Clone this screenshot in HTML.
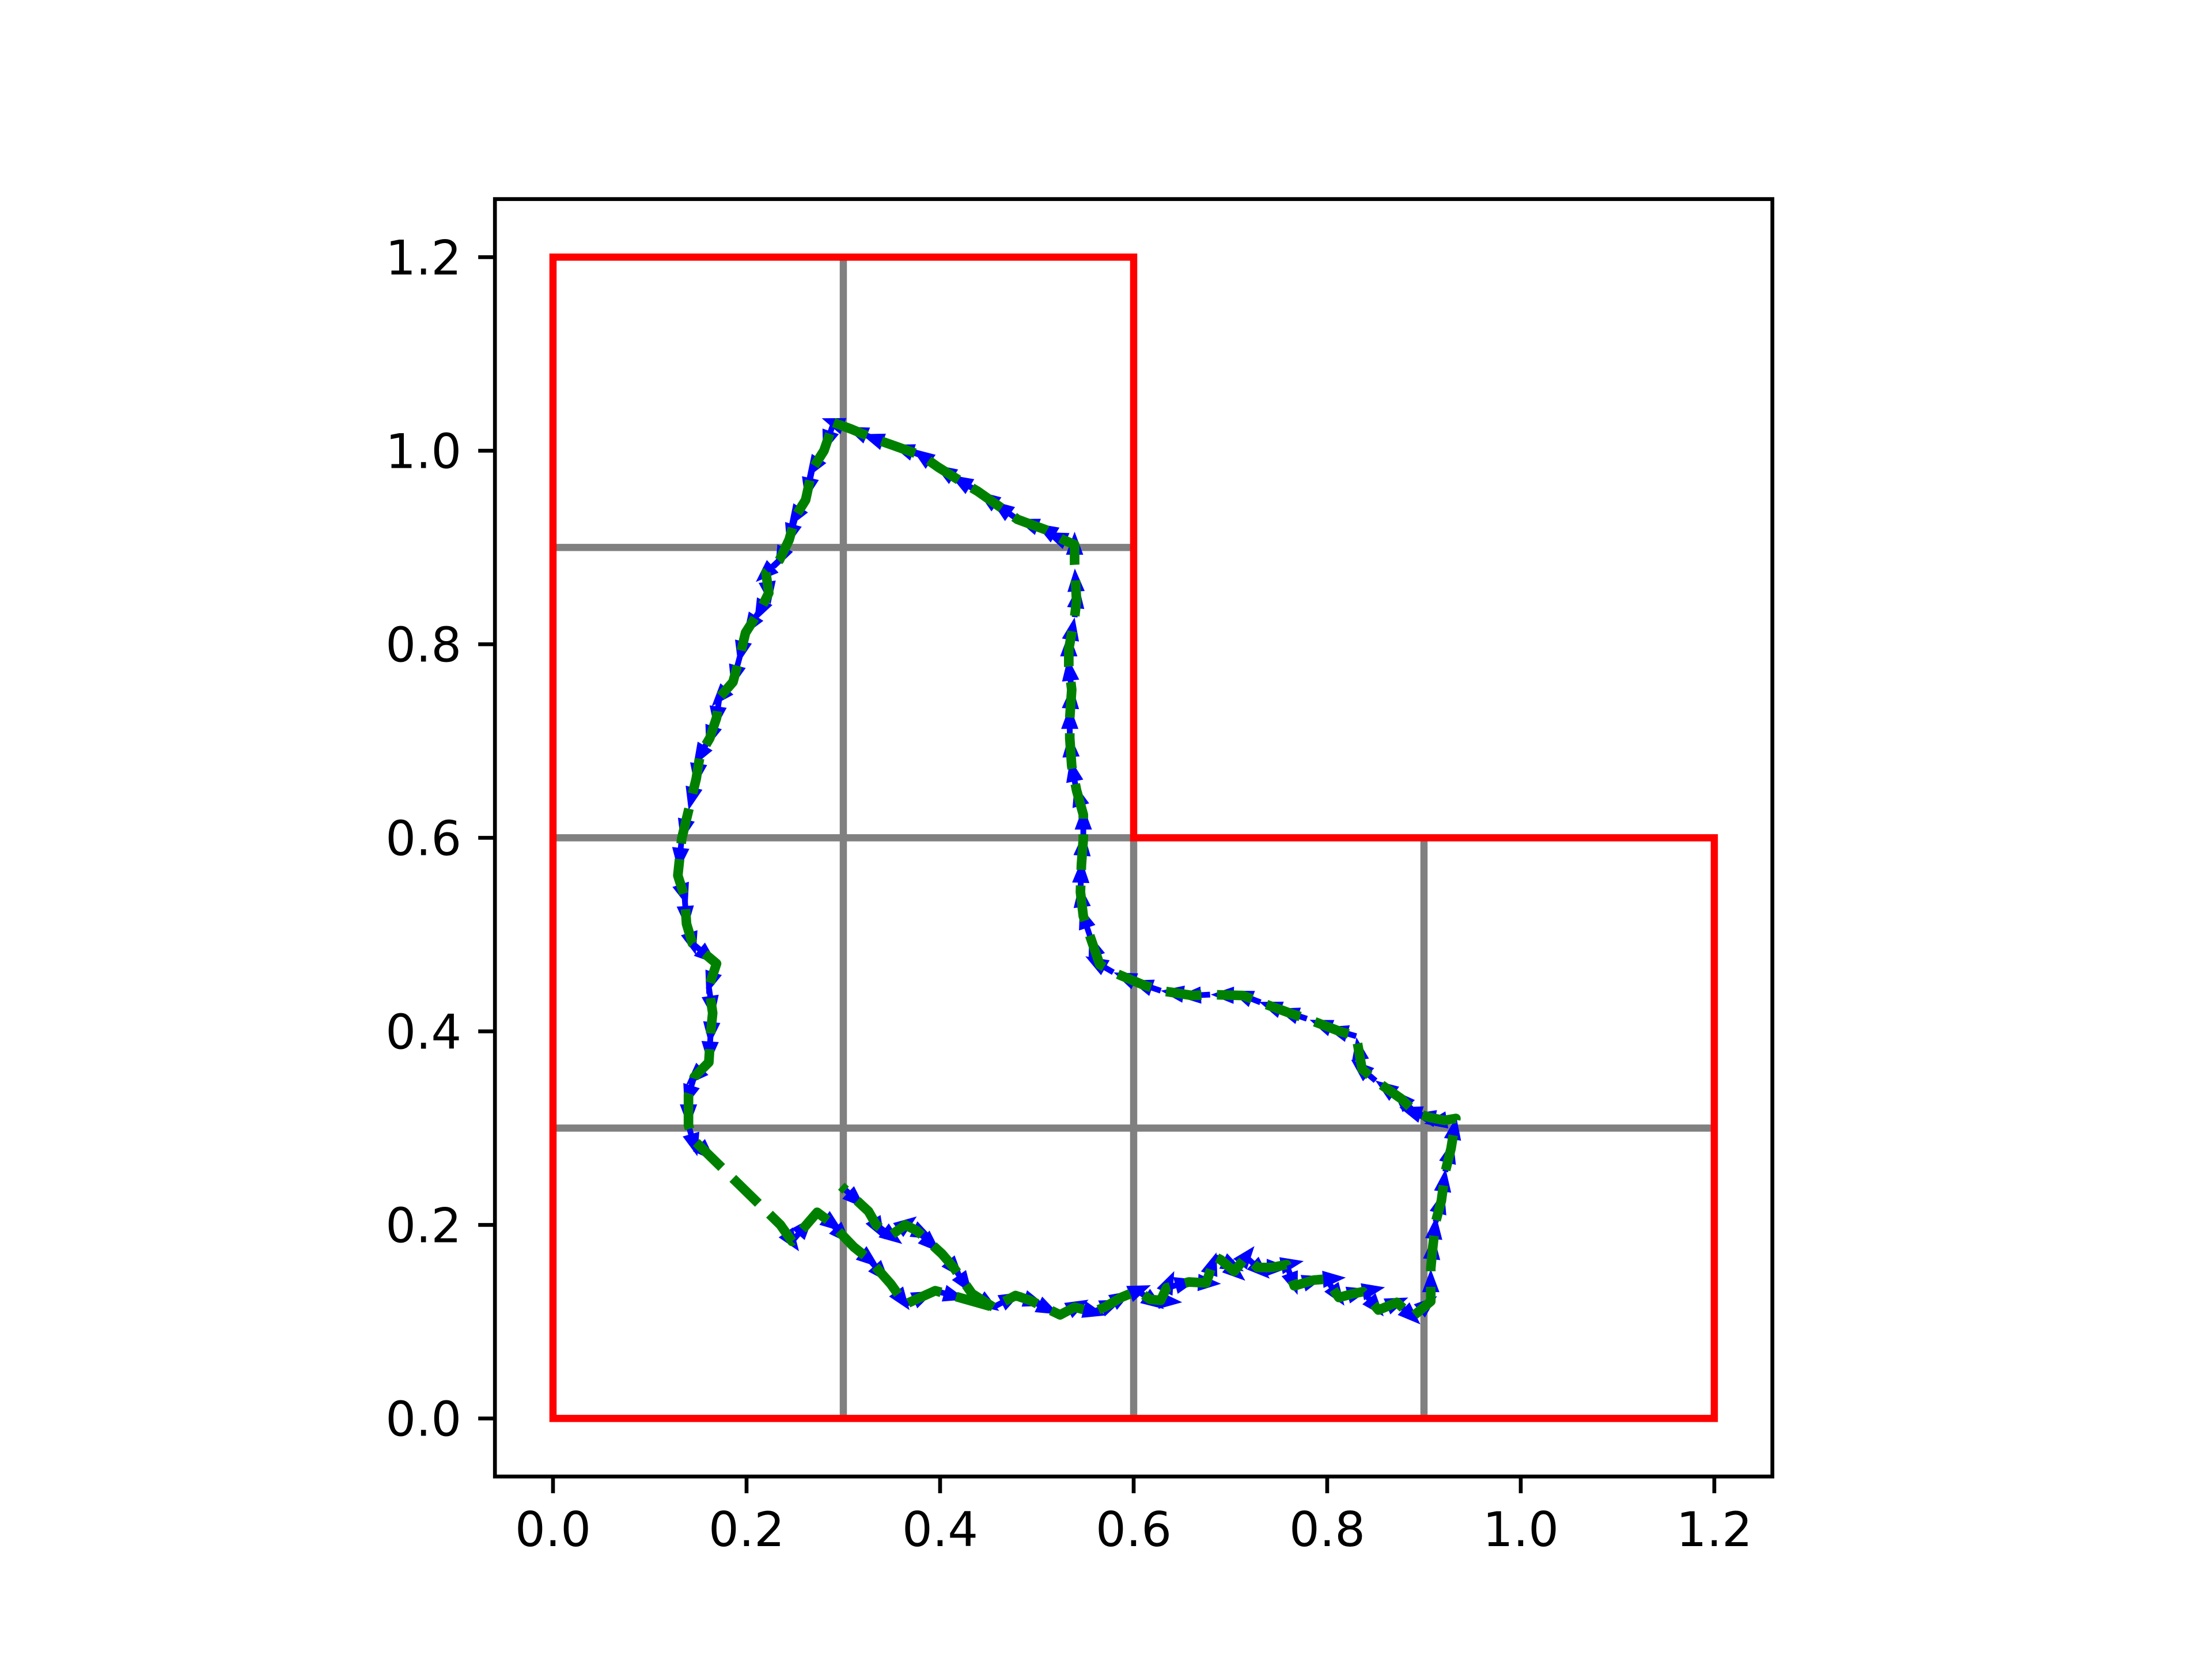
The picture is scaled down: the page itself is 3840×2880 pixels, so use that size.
<!DOCTYPE html>
<html><head><meta charset="utf-8">
<style>html,body{margin:0;padding:0;background:#fff;}svg{display:block;}</style>
</head><body>
<svg id="chart" width="3840" height="2880" viewBox="0 0 3840 2880" xmlns="http://www.w3.org/2000/svg">
<rect x="0" y="0" width="3840" height="2880" fill="#fff"/>
<g id="grid"></g>
<g id="region"></g>
<g id="arrows"></g>
<g id="path"></g>
<g id="axes"></g>
</svg>
<script>
const xTicks = [0, 0.2, 0.4, 0.6, 0.8, 1.0, 1.2];
const yTicks = [0, 0.2, 0.4, 0.6, 0.8, 1.0, 1.2];
const xTickLabels = ["0.0","0.2","0.4","0.6","0.8","1.0","1.2"];
const yTickLabels = ["0.0","0.2","0.4","0.6","0.8","1.0","1.2"];
const regionX = [0, 1.2, 1.2, 0.6, 0.6, 0];
const regionY = [0, 0, 0.6, 0.6, 1.2, 1.2];
const gridSegX1 = [0.3, 0.6, 0.9, 0, 0, 0];
const gridSegY1 = [0, 0, 0, 0.3, 0.6, 0.9];
const gridSegX2 = [0.3, 0.6, 0.9, 1.2, 0.6, 0.6];
const gridSegY2 = [1.2, 0.6, 0.6, 0.3, 0.6, 0.9];
const pathX = [0.290,0.309,0.333,0.350,0.381,0.398,0.422,0.439,0.466,0.480,0.510,0.527,0.539,
 0.539,0.541,0.539,0.533,0.533,0.536,0.534,0.534,0.536,0.541,0.548,0.548,0.546,0.545,0.548,0.555,0.565,0.579,0.610,
 0.628,0.661,0.679,0.713,0.731,0.761,0.779,0.813,0.830,0.836,0.850,0.877,0.891,0.906,0.921,0.933,
 0.928,0.922,0.918,0.912,0.909,0.907,0.907,0.888,0.872,0.853,0.837,0.827,0.812,0.799,0.786,0.766,0.758,0.743,0.728,0.716,0.704,0.690,0.684,0.675,0.657,0.634,0.628,0.617,0.604,0.587,0.570,
 0.558,0.539,0.524,0.493,0.478,0.455,
 0.395,0.364,0.349,0.326,0.311,0.285,0.273,0.247,0.235,0.144,
 0.140,0.140,0.146,0.161,0.163,0.165,0.161,0.169,0.144,0.138,0.136,0.129,
 0.133,0.140,0.148,0.152,0.162,0.169,0.172,0.186,0.193,0.199,0.215,0.223,0.220,0.234,0.244,0.251,0.261,0.268,0.280,0.290];
const pathY = [1.029,1.022,1.012,1.006,0.995,0.983,0.968,0.958,0.939,0.929,0.918,0.908,0.903,
 0.883,0.845,0.828,0.795,0.778,0.753,0.724,0.703,0.674,0.649,0.624,0.599,0.572,0.544,0.519,0.498,0.469,0.461,0.448,
 0.442,0.437,0.438,0.437,0.430,0.419,0.413,0.400,0.395,0.361,0.349,0.330,0.316,0.311,0.308,0.310,
 0.279,0.255,0.225,0.203,0.176,0.155,0.121,0.105,0.120,0.112,0.131,0.129,0.125,0.144,0.143,0.137,0.159,0.156,0.156,0.167,0.152,0.164,0.167,0.140,0.141,0.135,0.122,0.123,0.132,0.125,0.115,
 0.110,0.115,0.107,0.122,0.127,0.115,
 0.132,0.118,0.139,0.165,0.177,0.204,0.213,0.183,0.200,0.289,
 0.303,0.334,0.353,0.368,0.399,0.419,0.446,0.470,0.491,0.511,0.539,0.561,
 0.599,0.628,0.661,0.686,0.703,0.724,0.745,0.761,0.787,0.812,0.837,0.853,0.874,0.887,0.908,0.933,0.949,0.981,1.000,1.029];
const spurX = [0.455,0.433,0.414,0.402,0.376,0.364,0.349,0.334,0.326,0.298];
const spurY = [0.115,0.129,0.156,0.170,0.194,0.200,0.189,0.200,0.214,0.240];

const NS = "http://www.w3.org/2000/svg";
const L = 859.2, R = 3076.8, T = 345.6, B = 2563.2;
const xmin = -0.06, xmax = 1.26, ymin = -0.06, ymax = 1.26;
const sx = v => L + (v - xmin) / (xmax - xmin) * (R - L);
const sy = v => B - (v - ymin) / (ymax - ymin) * (B - T);
function mk(tag, attrs, parent) {
  const e = document.createElementNS(NS, tag);
  for (const k in attrs) e.setAttribute(k, attrs[k]);
  parent.appendChild(e);
  return e;
}
const gGrid = document.getElementById('grid');
for (let i = 0; i < gridSegX1.length; i++) {
  const ln = mk('line', {x1: sx(gridSegX1[i]), y1: sy(gridSegY1[i]), x2: sx(gridSegX2[i]), y2: sy(gridSegY2[i]), stroke: '#808080', 'stroke-width': 12.5}, gGrid);
  
  
}
const gReg = document.getElementById('region');
const reg = mk('polygon', {points: regionX.map((v, i) => sx(v) + ',' + sy(regionY[i])).join(' '), fill: 'none', stroke: '#ff0000', 'stroke-width': 12.5, 'stroke-linejoin': 'miter'}, gReg);



const gArr = document.getElementById('arrows');
function arrows(xs, ys, offset) {
  for (let i = offset; i < xs.length; i++) {
    const px = sx(xs[i]), py = sy(ys[i]);
    const qx = sx(xs[i - 1]), qy = sy(ys[i - 1]);
    let dx = qx - px, dy = qy - py;
    const d = Math.hypot(dx, dy) || 1; dx /= d; dy /= d;
    const nx = -dy, ny = dx;
    const len = 56, hl = 40, hw = 15, sw = 5;
    const tx = px + dx * len, ty = py + dy * len;
    const bx = tx - dx * hl, by = ty - dy * hl;
    const pts = [
      [px + nx * sw, py + ny * sw], [bx + nx * sw, by + ny * sw], [bx + nx * hw, by + ny * hw],
      [tx, ty], [bx - nx * hw, by - ny * hw], [bx - nx * sw, by - ny * sw], [px - nx * sw, py - ny * sw]
    ];
    const a = mk('polygon', {points: pts.map(p => p[0].toFixed(1) + ',' + p[1].toFixed(1)).join(' '), fill: '#0000ff'}, gArr);
    
    
  }
}
arrows(pathX, pathY, 1);
arrows(spurX, spurY, 1);

const gPath = document.getElementById('path');
function line(xs, ys, name) {
  const p = mk('polyline', {points: xs.map((v, i) => sx(v).toFixed(1) + ',' + sy(ys[i]).toFixed(1)).join(' '), fill: 'none', stroke: '#008000', 'stroke-width': 16.7, 'stroke-dasharray': '62 27', 'stroke-linejoin': 'round'}, gPath);
  
  
}
line(pathX, pathY, 'trajectory-dashed-line');
line(spurX, spurY, 'trajectory-spur-line');

const gAx = document.getElementById('axes');
const frame = mk('rect', {x: L, y: T, width: R - L, height: B - T, fill: 'none', stroke: '#000', 'stroke-width': 6.67, 'stroke-linejoin': 'miter'}, gAx);


xTicks.forEach((v, i) => {
  const t = mk('line', {x1: sx(v), y1: B, x2: sx(v), y2: B + 29, stroke: '#000', 'stroke-width': 6.67}, gAx);
  
  
  const tx = mk('text', {x: sx(v), y: B + 29 + 29 + 63, 'text-anchor': 'middle', 'font-family': 'DejaVu Sans, Liberation Sans, sans-serif', 'font-size': 83, fill: '#000'}, gAx);
  tx.textContent = xTickLabels[i];
  
  
});
yTicks.forEach((v, i) => {
  const t = mk('line', {x1: L - 29, y1: sy(v), x2: L, y2: sy(v), stroke: '#000', 'stroke-width': 6.67}, gAx);
  
  
  const tx = mk('text', {x: L - 29 - 29, y: sy(v) + 30, 'text-anchor': 'end', 'font-family': 'DejaVu Sans, Liberation Sans, sans-serif', 'font-size': 83, fill: '#000'}, gAx);
  tx.textContent = yTickLabels[i];
  
  
});
</script>
</body></html>
